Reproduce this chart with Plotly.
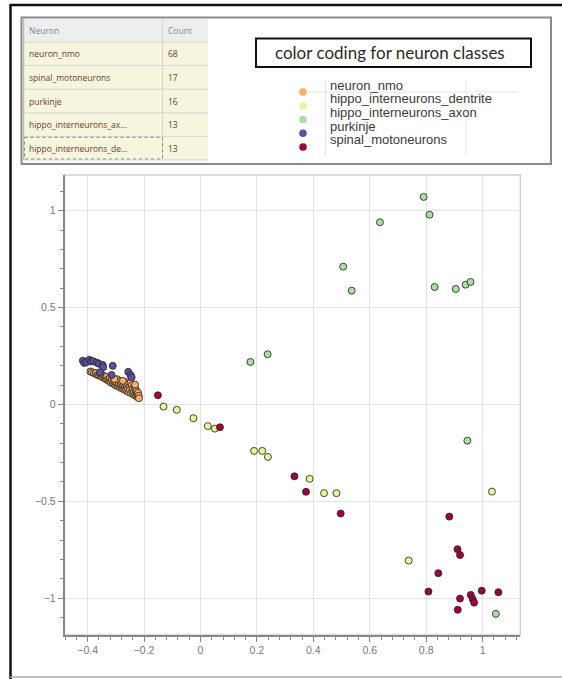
import plotly.graph_objects as go

W, H = 562, 679

# ---- summary table ----
table_header = ["Neuron", "Count"]
table_names = ["neuron_nmo", "spinal_motoneurons", "purkinje",
               "hippo_interneurons_ax...", "hippo_interneurons_de..."]
table_counts = [68, 17, 16, 13, 13]

# ---- legend ----
legend_title = "color coding for neuron classes"
legend_names = ["neuron_nmo", "hippo_interneurons_dentrite", "hippo_interneurons_axon",
                "purkinje", "spinal_motoneurons"]
legend_colors = ["#fdae61", "#e6f598", "#abdda4", "#5e4fa2", "#9e0142"]

# ---- projected coordinates per neuron class ----
nmo_x = [-0.390, -0.385, -0.378, -0.372, -0.370, -0.365, -0.360, -0.356, -0.352, -0.348,
         -0.345, -0.340, -0.336, -0.333, -0.330, -0.326, -0.322, -0.320, -0.317, -0.314,
         -0.310, -0.307, -0.304, -0.300, -0.298, -0.295, -0.293, -0.290, -0.287, -0.285,
         -0.283, -0.280, -0.278, -0.276, -0.273, -0.270, -0.268, -0.266, -0.264, -0.262,
         -0.260, -0.258, -0.256, -0.254, -0.252, -0.250, -0.248, -0.246, -0.244, -0.242,
         -0.240, -0.238, -0.236, -0.234, -0.232, -0.230, -0.229, -0.227, -0.226, -0.224,
         -0.222, -0.221, -0.219, -0.218, -0.232, -0.305, -0.355, -0.275]
nmo_y = [0.170, 0.166, 0.162, 0.158, 0.163, 0.152, 0.150, 0.156, 0.145, 0.140,
         0.150, 0.136, 0.131, 0.142, 0.127, 0.122, 0.134, 0.118, 0.113, 0.126,
         0.108, 0.119, 0.103, 0.098, 0.112, 0.130, 0.094, 0.105, 0.089, 0.120,
         0.098, 0.084, 0.110, 0.092, 0.079, 0.101, 0.086, 0.074, 0.115, 0.094,
         0.068, 0.082, 0.104, 0.063, 0.090, 0.075, 0.112, 0.058, 0.098, 0.070,
         0.083, 0.052, 0.064, 0.090, 0.047, 0.076, 0.058, 0.042, 0.068, 0.052,
         0.037, 0.060, 0.045, 0.032, 0.102, 0.131, 0.160, 0.122]

dentrite_x = [-0.131, -0.084, -0.025, 0.026, 0.051, 0.190, 0.219, 0.239, 0.387,
              0.438, 0.482, 0.738, 1.033]
dentrite_y = [-0.011, -0.028, -0.071, -0.112, -0.125, -0.240, -0.240, -0.271, -0.384,
              -0.458, -0.458, -0.806, -0.450]

axon_x = [0.177, 0.238, 0.506, 0.536, 0.636, 0.791, 0.812, 0.830, 0.905, 0.940,
          0.957, 0.946, 1.047]
axon_y = [0.219, 0.259, 0.711, 0.587, 0.940, 1.071, 0.979, 0.606, 0.596, 0.618,
          0.632, -0.187, -1.081]

purkinje_x = [-0.417, -0.412, -0.404, -0.394, -0.388, -0.380, -0.368, -0.360, -0.347,
              -0.345, -0.311, -0.356, -0.315, -0.256, -0.248, -0.244]
purkinje_y = [0.226, 0.214, 0.218, 0.230, 0.222, 0.223, 0.216, 0.210, 0.204,
              0.192, 0.199, 0.166, 0.152, 0.168, 0.152, 0.140]

spinal_x = [-0.151, 0.069, 0.333, 0.374, 0.497, 0.882, 0.911, 0.920, 0.843, 0.808,
            0.920, 0.958, 0.965, 0.970, 0.997, 1.056, 0.912]
spinal_y = [0.047, -0.118, -0.371, -0.451, -0.563, -0.579, -0.747, -0.777, -0.871, -0.966,
            -1.002, -0.983, -1.005, -1.023, -0.961, -0.969, -1.060]

series = [
    (nmo_x, nmo_y),
    (dentrite_x, dentrite_y),
    (axon_x, axon_y),
    (purkinje_x, purkinje_y),
    (spinal_x, spinal_y),
]


def fx(px):
    return px / W


def fy(py):
    return 1 - py / H


fig = go.Figure()
for (xs, ys), name, col in zip(series, legend_names, legend_colors):
    fig.add_trace(go.Scatter(
        x=xs, y=ys, mode="markers", name=name, showlegend=False,
        marker=dict(size=7, color=col, line=dict(width=1, color="rgba(40,40,40,0.85)")),
    ))

shapes = []
annotations = []

# outer frame of the page
shapes.append(dict(type="line", xref="paper", yref="paper", x0=fx(10.5), x1=fx(10.5),
                   y0=fy(4), y1=fy(679), line=dict(color="#111", width=2.5)))
shapes.append(dict(type="line", xref="paper", yref="paper", x0=fx(10), x1=fx(562),
                   y0=fy(5), y1=fy(5), line=dict(color="#111", width=2.5)))
shapes.append(dict(type="line", xref="paper", yref="paper", x0=fx(10), x1=fx(562),
                   y0=fy(677), y1=fy(677), line=dict(color="#aaa", width=1.5)))

# top panel
shapes.append(dict(type="rect", xref="paper", yref="paper", x0=fx(21.5), x1=fx(551),
                   y0=fy(17.5), y1=fy(164), line=dict(color="#8a8a8a", width=2)))

# table body
tx0, tx1, tsplit = 23.5, 208, 162.5
row_top = 42
row_h = 23.6
shapes.append(dict(type="rect", xref="paper", yref="paper", x0=fx(tx0), x1=fx(tx1),
                   y0=fy(19), y1=fy(row_top), fillcolor="#eeeeee", line=dict(width=0)))
shapes.append(dict(type="rect", xref="paper", yref="paper", x0=fx(tx0), x1=fx(tx1),
                   y0=fy(row_top), y1=fy(row_top + row_h * len(table_names)),
                   fillcolor="#f6f6de", line=dict(width=0)))
for i in range(len(table_names) + 1):
    yy = row_top + row_h * i
    shapes.append(dict(type="line", xref="paper", yref="paper", x0=fx(tx0), x1=fx(tx1),
                       y0=fy(yy), y1=fy(yy), line=dict(color="#d6d6d0", width=1)))
shapes.append(dict(type="line", xref="paper", yref="paper", x0=fx(tsplit), x1=fx(tsplit),
                   y0=fy(19), y1=fy(row_top + row_h * len(table_names)),
                   line=dict(color="#d6d6d0", width=1)))
shapes.append(dict(type="line", xref="paper", yref="paper", x0=fx(tx0), x1=fx(tx0),
                   y0=fy(19), y1=fy(row_top + row_h * len(table_names)),
                   line=dict(color="#bdbdbd", width=1.5)))
# focus outline on the last row
last_top = row_top + row_h * (len(table_names) - 1)
shapes.append(dict(type="rect", xref="paper", yref="paper", x0=fx(tx0 + 1), x1=fx(tsplit),
                   y0=fy(last_top + 1), y1=fy(last_top + row_h - 1),
                   line=dict(color="#888", width=1, dash="dot")))

annotations.append(dict(xref="paper", yref="paper", x=fx(27), y=fy(30.5), text=table_header[0],
                        showarrow=False, xanchor="left", yanchor="middle",
                        font=dict(family="Open Sans", size=8.5, color="#7d8796")))
annotations.append(dict(xref="paper", yref="paper", x=fx(166), y=fy(30.5), text=table_header[1],
                        showarrow=False, xanchor="left", yanchor="middle",
                        font=dict(family="Open Sans", size=8.5, color="#7d8796")))
for i, (nm, ct) in enumerate(zip(table_names, table_counts)):
    yc = row_top + row_h * i + row_h / 2
    annotations.append(dict(xref="paper", yref="paper", x=fx(27), y=fy(yc), text=nm,
                            showarrow=False, xanchor="left", yanchor="middle",
                            font=dict(family="Open Sans", size=8.5, color="#6b3b2c")))
    annotations.append(dict(xref="paper", yref="paper", x=fx(166), y=fy(yc), text=str(ct),
                            showarrow=False, xanchor="left", yanchor="middle",
                            font=dict(family="Open Sans", size=8.5, color="#6b3b2c")))

# legend title box
shapes.append(dict(type="rect", xref="paper", yref="paper", x0=fx(256), x1=fx(531),
                   y0=fy(38.5), y1=fy(67), line=dict(color="#111", width=2)))
annotations.append(dict(xref="paper", yref="paper", x=fx(390), y=fy(52.5), text=legend_title,
                        showarrow=False, xanchor="center", yanchor="middle",
                        font=dict(family="Lato", size=17, color="#2a2a2a")))

# faint guide lines behind the legend
for gx in (325.5, 466):
    shapes.append(dict(type="line", xref="paper", yref="paper", x0=fx(gx), x1=fx(gx),
                       y0=fy(80), y1=fy(155), line=dict(color="#e4e4e4", width=1), layer="below"))
shapes.append(dict(type="line", xref="paper", yref="paper", x0=fx(297), x1=fx(518),
                   y0=fy(92), y1=fy(92), line=dict(color="#e4e4e4", width=1), layer="below"))

dot_y = [92, 106, 119.5, 133.3, 147]
lab_y = [85, 98.7, 112.4, 126.1, 139.8]
for nm, col, dy, ly in zip(legend_names, legend_colors, dot_y, lab_y):
    r = 3.8
    shapes.append(dict(type="circle", xref="paper", yref="paper",
                       x0=fx(303 - r), x1=fx(303 + r), y0=fy(dy - r), y1=fy(dy + r),
                       fillcolor=col, line=dict(width=0)))
    annotations.append(dict(xref="paper", yref="paper", x=fx(327.5), y=fy(ly), text=nm,
                            showarrow=False, xanchor="left", yanchor="middle",
                            font=dict(family="Liberation Sans", size=13, color="#3a3a3a")))

# plot frame (top/right lighter)
px0, px1, py0, py1 = 64.5, 520.4, 175, 635
shapes.append(dict(type="rect", xref="paper", yref="paper", x0=fx(px0), x1=fx(px1),
                   y0=fy(py1), y1=fy(py0), line=dict(color="#d0d0d0", width=1.5), layer="below"))

fig.update_layout(
    width=W, height=H, autosize=False,
    margin=dict(l=0, r=0, t=0, b=0),
    paper_bgcolor="white", plot_bgcolor="white",
    shapes=shapes, annotations=annotations,
    showlegend=False,
    xaxis=dict(
        domain=[fx(px0), fx(px1)], range=[-0.482, 1.134],
        tick0=0, dtick=0.2, ticks="outside", ticklen=5, tickwidth=1, tickcolor="#888",
        minor=dict(dtick=0.04, tick0=0, ticks="outside", ticklen=3, tickcolor="#888",
                   showgrid=False),
        showgrid=True, gridcolor="#e2e2e2", gridwidth=1, zeroline=False,
        showline=True, linecolor="#888", linewidth=1.5,
        tickfont=dict(family="Liberation Sans", size=10.5, color="#777"),
        fixedrange=True,
    ),
    yaxis=dict(
        domain=[fy(py1), fy(py0)], range=[-1.19, 1.184],
        tick0=0, dtick=0.5, ticks="outside", ticklen=5, tickwidth=1, tickcolor="#888",
        minor=dict(dtick=0.1, tick0=0, ticks="outside", ticklen=3, tickcolor="#888",
                   showgrid=False),
        showgrid=True, gridcolor="#e2e2e2", gridwidth=1, zeroline=False,
        showline=True, linecolor="#888", linewidth=1.5,
        tickfont=dict(family="Liberation Sans", size=10.5, color="#777"),
        fixedrange=True,
    ),
)

fig.write_html("out.html", config=dict(displayModeBar=False))
